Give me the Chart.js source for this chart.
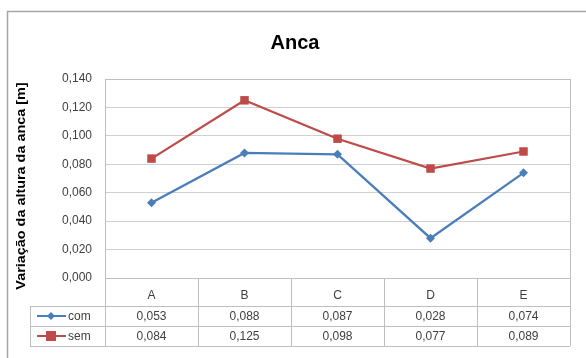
<!DOCTYPE html>
<html lang="pt">
<head>
  <meta charset="UTF-8">
  <title>Anca</title>
  <script src="https://cdn.jsdelivr.net/npm/chart.js"></script>
  <style>
    html, body { margin: 0; padding: 0; background: #fff; }
    #wrap { width: 586px; height: 358px; }
  </style>
</head>
<body>
<div id="wrap"><canvas id="ancaChart" width="586" height="358"></canvas></div>

<script>
// chart data
const categories = ['A', 'B', 'C', 'D', 'E'];
const comValues = [0.053, 0.088, 0.087, 0.028, 0.074];
const semValues = [0.084, 0.125, 0.098, 0.077, 0.089];
const seriesNames = ['com', 'sem'];
const yTitle = 'Variação da altura da anca [m]';

const blue = '#4A7EBB';
const red = '#BE4B48';
const textColor = '#404040';
const fontFamily = '"Liberation Sans", "DejaVu Sans", sans-serif';

function fmt(v) {
  return v.toFixed(3).replace('.', ',');
}

// Frame, titles, plot border and the data table under the plot
const excelBits = {
  id: 'excelBits',
  beforeDraw(chart) {
    const ctx = chart.ctx;
    ctx.save();
    ctx.fillStyle = '#fff';
    ctx.fillRect(0, 0, chart.width, chart.height);
    ctx.strokeStyle = '#a6a6a6';
    ctx.lineWidth = 1.5;
    ctx.strokeRect(7.5, 11.5, 640, 400);
    ctx.restore();
  },
  afterDraw(chart) {
    const ctx = chart.ctx;
    const area = chart.chartArea;
    const x = chart.scales.x;

    ctx.save();
    // title
    ctx.fillStyle = '#000';
    ctx.font = 'bold 20px ' + fontFamily;
    ctx.textAlign = 'center';
    ctx.textBaseline = 'middle';
    ctx.fillText('Anca', 295, 43);

    // y axis title (a bit stretched, like the original)
    ctx.save();
    ctx.translate(22, 186);
    ctx.rotate(-Math.PI / 2);
    ctx.scale(1.2, 1);
    ctx.font = 'bold 12px ' + fontFamily;
    ctx.fillText(yTitle, 0, 0);
    ctx.restore();

    // plot border
    ctx.strokeStyle = '#bfbfbf';
    ctx.lineWidth = 1;
    ctx.strokeRect(Math.round(area.left) + 0.5, Math.round(area.top) + 0.5,
      Math.round(area.right - area.left), Math.round(area.bottom - area.top));

    // table grid
    const rowTop = [area.bottom, area.bottom + 28, area.bottom + 48, area.bottom + 68];
    const colW = (area.right - area.left) / categories.length;
    ctx.beginPath();
    for (let r = 1; r <= 3; r++) {
      ctx.moveTo(30, Math.round(rowTop[r]) + 0.5);
      ctx.lineTo(area.right, Math.round(rowTop[r]) + 0.5);
    }
    for (let i = 0; i <= categories.length; i++) {
      const cx = Math.round(area.left + i * colW) + 0.5;
      ctx.moveTo(cx, area.bottom);
      ctx.lineTo(cx, rowTop[3]);
    }
    ctx.moveTo(30.5, rowTop[1]);
    ctx.lineTo(30.5, rowTop[3]);
    ctx.stroke();

    // table text
    ctx.fillStyle = textColor;
    ctx.font = '12px ' + fontFamily;
    ctx.textAlign = 'center';
    categories.forEach((c, i) => {
      const cx = x.getPixelForValue(i);
      ctx.fillText(c, cx, (rowTop[0] + rowTop[1]) / 2 + 4);
      ctx.fillText(fmt(comValues[i]), cx, (rowTop[1] + rowTop[2]) / 2 + 1);
      ctx.fillText(fmt(semValues[i]), cx, (rowTop[2] + rowTop[3]) / 2 + 1);
    });

    // legend keys
    const keys = [
      { name: seriesNames[0], color: blue, y: (rowTop[1] + rowTop[2]) / 2, diamond: true },
      { name: seriesNames[1], color: red, y: (rowTop[2] + rowTop[3]) / 2, diamond: false }
    ];
    keys.forEach(k => {
      ctx.strokeStyle = k.color;
      ctx.lineWidth = 2;
      ctx.beginPath();
      ctx.moveTo(37, k.y);
      ctx.lineTo(66, k.y);
      ctx.stroke();
      ctx.fillStyle = k.color;
      ctx.beginPath();
      if (k.diamond) {
        ctx.moveTo(51, k.y - 4);
        ctx.lineTo(55, k.y);
        ctx.lineTo(51, k.y + 4);
        ctx.lineTo(47, k.y);
      } else {
        ctx.rect(46, k.y - 5, 10, 10);
      }
      ctx.closePath();
      ctx.fill();
      ctx.fillStyle = textColor;
      ctx.textAlign = 'left';
      ctx.fillText(k.name, 68, k.y + 1);
    });
    ctx.restore();
  }
};

new Chart(document.getElementById('ancaChart'), {
  type: 'line',
  data: {
    labels: categories,
    datasets: [
      {
        label: seriesNames[0],
        data: comValues,
        borderColor: blue,
        backgroundColor: blue,
        borderWidth: 2.25,
        pointStyle: 'rectRot',
        pointRadius: 4.5,
        pointBorderWidth: 0,
        tension: 0
      },
      {
        label: seriesNames[1],
        data: semValues,
        borderColor: red,
        backgroundColor: red,
        borderWidth: 2.25,
        pointStyle: 'rect',
        pointRadius: 6,
        pointBorderWidth: 0,
        tension: 0
      }
    ]
  },
  options: {
    responsive: false,
    animation: false,
    layout: { padding: { top: 79, right: 16, bottom: 80, left: 0 } },
    plugins: {
      legend: { display: false },
      title: { display: false },
      tooltip: { enabled: false }
    },
    scales: {
      x: {
        type: 'category',
        display: false,
        offset: true
      },
      y: {
        min: 0,
        max: 0.14,
        afterFit(scale) { scale.width = 105; },
        border: { display: false },
        grid: { color: '#d0d0d0', drawTicks: false },
        ticks: {
          stepSize: 0.02,
          padding: 13,
          color: textColor,
          font: { family: fontFamily, size: 12 },
          callback: v => fmt(v)
        },
        title: { display: false }
      }
    }
  },
  plugins: [excelBits]
});
</script>
</body>
</html>
